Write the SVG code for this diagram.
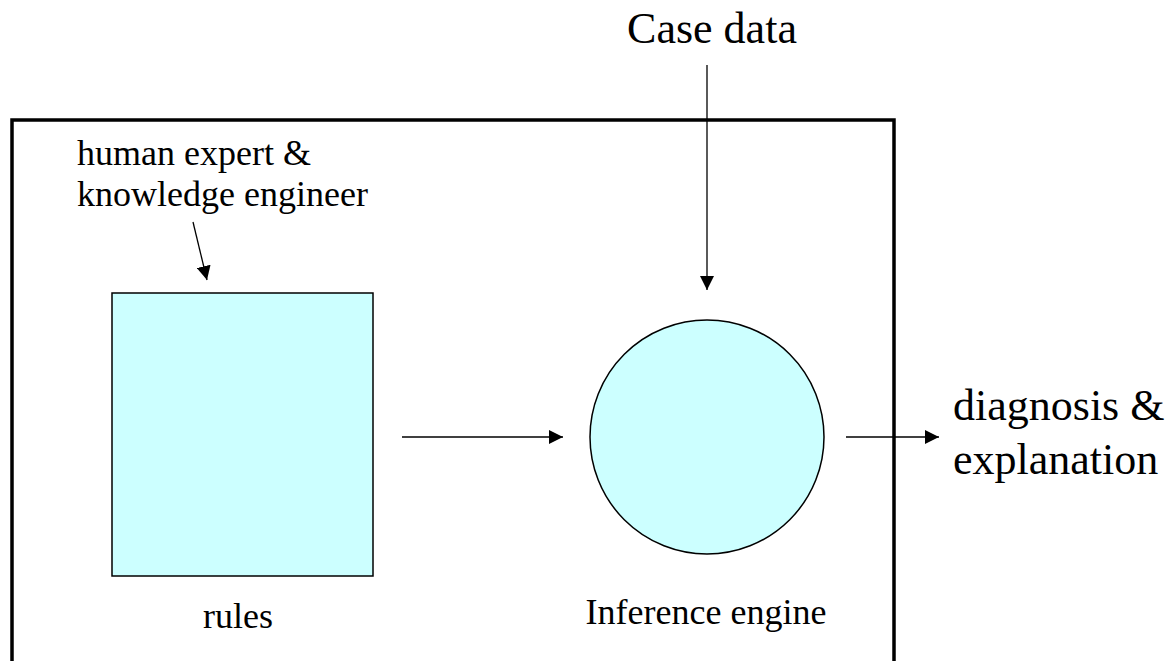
<svg xmlns="http://www.w3.org/2000/svg" width="1171" height="661" viewBox="0 0 1171 661">
  <defs>
    <marker id="arrow" markerUnits="userSpaceOnUse" markerWidth="14" markerHeight="14" refX="14" refY="7" orient="auto">
      <path d="M0,0 L14,7 L0,14 z" fill="#000"/>
    </marker>
    <style>
      text { font-family: "Liberation Serif", "Times New Roman", serif; fill: #000; }
      .lbl { font-size: 36px; }
      .big { font-size: 44px; }
      .conn { stroke: #000; stroke-width: 1.3; fill: none; marker-end: url(#arrow); }
      .shape { fill: #CCFFFF; stroke: #000; stroke-width: 1.5; }
    </style>
  </defs>
  <rect width="1171" height="661" fill="#fff"/>

  <!-- system boundary (open at the bottom) -->
  <g id="system">
    <path d="M12,670 V120 H894 V670" fill="none" stroke="#000" stroke-width="3.5"/>
  </g>

  <g id="case-data">
    <text class="big" x="712" y="43" text-anchor="middle">Case data</text>
  </g>

  <g id="expert">
    <text class="lbl" x="77" y="165">human expert &amp;</text>
    <text class="lbl" x="77" y="206">knowledge engineer</text>
  </g>

  <g id="rules">
    <rect class="shape" x="112" y="293" width="261" height="283"/>
    <text class="lbl" x="238" y="628" text-anchor="middle">rules</text>
  </g>

  <g id="inference-engine">
    <circle class="shape" cx="707" cy="437" r="117"/>
    <text class="lbl" x="706" y="624" text-anchor="middle">Inference engine</text>
  </g>

  <g id="output">
    <text class="big" x="953" y="420">diagnosis &amp;</text>
    <text class="big" x="953" y="474">explanation</text>
  </g>

  <g id="connectors">
    <line class="conn" x1="707" y1="65" x2="707" y2="290"/>
    <line class="conn" x1="193" y1="222" x2="207" y2="280"/>
    <line class="conn" x1="402" y1="437" x2="563" y2="437"/>
    <line class="conn" x1="846" y1="437" x2="939" y2="437"/>
  </g>
</svg>
